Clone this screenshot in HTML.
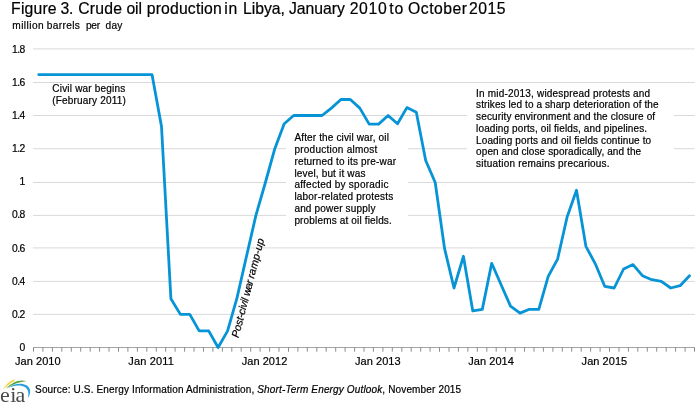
<!DOCTYPE html>
<html><head><meta charset="utf-8"><title>Figure 3</title>
<style>
html,body{margin:0;padding:0;background:#fff;}
body{width:700px;height:404px;overflow:hidden;font-family:"Liberation Sans",Arial,sans-serif;}
svg{display:block;}
text{font-family:"Liberation Sans",Arial,sans-serif;fill:#000;stroke:#000;stroke-width:0.2px;}
.g line{stroke:#d9d9d9;stroke-width:1;}
.ax line{stroke:#8c8c8c;stroke-width:1;}
.s10{font-size:10px;}
.s11{font-size:11px;}
</style></head><body>
<svg width="700" height="404" viewBox="0 0 700 404">
<rect width="700" height="404" fill="#fff"/>
<text y="13.65" font-size="15.75"><tspan x="11.10" textLength="45.50" lengthAdjust="spacing">Figure</tspan> <tspan x="60.50" textLength="12.83" lengthAdjust="spacing">3.</tspan> <tspan x="78.23" textLength="43.75" lengthAdjust="spacing">Crude</tspan> <tspan x="126.38" textLength="15.72" lengthAdjust="spacing">oil</tspan> <tspan x="146.75" textLength="75.03" lengthAdjust="spacing">production</tspan> <tspan x="224.18" textLength="13.19" lengthAdjust="spacing">in</tspan> <tspan x="243.02" textLength="41.85" lengthAdjust="spacing">Libya,</tspan> <tspan x="289.02" textLength="55.88" lengthAdjust="spacing">January</tspan> <tspan x="349.70" textLength="37.04" lengthAdjust="spacing">2010</tspan> <tspan x="389.14" textLength="14.08" lengthAdjust="spacing">to</tspan> <tspan x="408.12" textLength="58.79" lengthAdjust="spacing">October</tspan> <tspan x="469.06" textLength="36.54" lengthAdjust="spacing">2015</tspan></text>
<text y="28.7" font-size="10.15"><tspan x="12.30" textLength="31.37" lengthAdjust="spacing">million</tspan> <tspan x="46.84" textLength="32.98" lengthAdjust="spacing">barrels</tspan> <tspan x="85.90" textLength="14.24" lengthAdjust="spacing">per</tspan> <tspan x="105.61" textLength="16.69" lengthAdjust="spacing">day</tspan></text>
<g class="g"><line x1="33" x2="694.8" y1="314.4" y2="314.4"/><line x1="33" x2="694.8" y1="281.4" y2="281.4"/><line x1="33" x2="694.8" y1="247.9" y2="247.9"/><line x1="33" x2="694.8" y1="215.4" y2="215.4"/><line x1="33" x2="694.8" y1="182.5" y2="182.5"/><line x1="33" x2="694.8" y1="148.7" y2="148.7"/><line x1="33" x2="694.8" y1="115.5" y2="115.5"/><line x1="33" x2="694.8" y1="82.5" y2="82.5"/><line x1="33" x2="694.8" y1="48.9" y2="48.9"/></g>
<rect x="286" y="128" width="122" height="100" fill="#fff"/>
<rect x="467" y="84" width="207" height="88" fill="#fff"/>
<g class="ax"><line x1="33" x2="695" y1="347.5" y2="347.5" style="stroke:#a4a4a4"/><line x1="33.5" x2="33.5" y1="347.5" y2="351.7"/><line x1="42.9" x2="42.9" y1="347.5" y2="351.7"/><line x1="52.4" x2="52.4" y1="347.5" y2="351.7"/><line x1="61.8" x2="61.8" y1="347.5" y2="351.7"/><line x1="71.3" x2="71.3" y1="347.5" y2="351.7"/><line x1="80.7" x2="80.7" y1="347.5" y2="351.7"/><line x1="90.2" x2="90.2" y1="347.5" y2="351.7"/><line x1="99.6" x2="99.6" y1="347.5" y2="351.7"/><line x1="109.0" x2="109.0" y1="347.5" y2="351.7"/><line x1="118.5" x2="118.5" y1="347.5" y2="351.7"/><line x1="127.9" x2="127.9" y1="347.5" y2="351.7"/><line x1="137.4" x2="137.4" y1="347.5" y2="351.7"/><line x1="146.8" x2="146.8" y1="347.5" y2="351.7"/><line x1="156.3" x2="156.3" y1="347.5" y2="351.7"/><line x1="165.7" x2="165.7" y1="347.5" y2="351.7"/><line x1="175.1" x2="175.1" y1="347.5" y2="351.7"/><line x1="184.6" x2="184.6" y1="347.5" y2="351.7"/><line x1="194.0" x2="194.0" y1="347.5" y2="351.7"/><line x1="203.5" x2="203.5" y1="347.5" y2="351.7"/><line x1="212.9" x2="212.9" y1="347.5" y2="351.7"/><line x1="222.4" x2="222.4" y1="347.5" y2="351.7"/><line x1="231.8" x2="231.8" y1="347.5" y2="351.7"/><line x1="241.2" x2="241.2" y1="347.5" y2="351.7"/><line x1="250.7" x2="250.7" y1="347.5" y2="351.7"/><line x1="260.1" x2="260.1" y1="347.5" y2="351.7"/><line x1="269.6" x2="269.6" y1="347.5" y2="351.7"/><line x1="279.0" x2="279.0" y1="347.5" y2="351.7"/><line x1="288.5" x2="288.5" y1="347.5" y2="351.7"/><line x1="297.9" x2="297.9" y1="347.5" y2="351.7"/><line x1="307.3" x2="307.3" y1="347.5" y2="351.7"/><line x1="316.8" x2="316.8" y1="347.5" y2="351.7"/><line x1="326.2" x2="326.2" y1="347.5" y2="351.7"/><line x1="335.7" x2="335.7" y1="347.5" y2="351.7"/><line x1="345.1" x2="345.1" y1="347.5" y2="351.7"/><line x1="354.6" x2="354.6" y1="347.5" y2="351.7"/><line x1="364.0" x2="364.0" y1="347.5" y2="351.7"/><line x1="373.4" x2="373.4" y1="347.5" y2="351.7"/><line x1="382.9" x2="382.9" y1="347.5" y2="351.7"/><line x1="392.3" x2="392.3" y1="347.5" y2="351.7"/><line x1="401.8" x2="401.8" y1="347.5" y2="351.7"/><line x1="411.2" x2="411.2" y1="347.5" y2="351.7"/><line x1="420.7" x2="420.7" y1="347.5" y2="351.7"/><line x1="430.1" x2="430.1" y1="347.5" y2="351.7"/><line x1="439.5" x2="439.5" y1="347.5" y2="351.7"/><line x1="449.0" x2="449.0" y1="347.5" y2="351.7"/><line x1="458.4" x2="458.4" y1="347.5" y2="351.7"/><line x1="467.9" x2="467.9" y1="347.5" y2="351.7"/><line x1="477.3" x2="477.3" y1="347.5" y2="351.7"/><line x1="486.8" x2="486.8" y1="347.5" y2="351.7"/><line x1="496.2" x2="496.2" y1="347.5" y2="351.7"/><line x1="505.6" x2="505.6" y1="347.5" y2="351.7"/><line x1="515.1" x2="515.1" y1="347.5" y2="351.7"/><line x1="524.5" x2="524.5" y1="347.5" y2="351.7"/><line x1="534.0" x2="534.0" y1="347.5" y2="351.7"/><line x1="543.4" x2="543.4" y1="347.5" y2="351.7"/><line x1="552.9" x2="552.9" y1="347.5" y2="351.7"/><line x1="562.3" x2="562.3" y1="347.5" y2="351.7"/><line x1="571.7" x2="571.7" y1="347.5" y2="351.7"/><line x1="581.2" x2="581.2" y1="347.5" y2="351.7"/><line x1="590.6" x2="590.6" y1="347.5" y2="351.7"/><line x1="600.1" x2="600.1" y1="347.5" y2="351.7"/><line x1="609.5" x2="609.5" y1="347.5" y2="351.7"/><line x1="619.0" x2="619.0" y1="347.5" y2="351.7"/><line x1="628.4" x2="628.4" y1="347.5" y2="351.7"/><line x1="637.8" x2="637.8" y1="347.5" y2="351.7"/><line x1="647.3" x2="647.3" y1="347.5" y2="351.7"/><line x1="656.7" x2="656.7" y1="347.5" y2="351.7"/><line x1="666.2" x2="666.2" y1="347.5" y2="351.7"/><line x1="675.6" x2="675.6" y1="347.5" y2="351.7"/><line x1="685.1" x2="685.1" y1="347.5" y2="351.7"/><line x1="694.5" x2="694.5" y1="347.5" y2="351.7"/></g>
<g class="s11"><text x="19.57" y="350.5" font-size="10.3">0</text><text x="12.10" y="318.3" font-size="10.3" textLength="13.2" lengthAdjust="spacing">0.2</text><text x="12.10" y="284.6" font-size="10.3" textLength="13.2" lengthAdjust="spacing">0.4</text><text x="12.10" y="251.5" font-size="10.3" textLength="13.2" lengthAdjust="spacing">0.6</text><text x="12.10" y="218.3" font-size="10.3" textLength="13.2" lengthAdjust="spacing">0.8</text><text x="19.57" y="184.6" font-size="10.3">1</text><text x="12.10" y="151.5" font-size="10.3" textLength="13.2" lengthAdjust="spacing">1.2</text><text x="12.10" y="119.0" font-size="10.3" textLength="13.2" lengthAdjust="spacing">1.4</text><text x="12.10" y="85.7" font-size="10.3" textLength="13.2" lengthAdjust="spacing">1.6</text><text x="12.10" y="52.6" font-size="10.3" textLength="13.2" lengthAdjust="spacing">1.8</text><text x="37.8" y="364.7" text-anchor="middle" textLength="45.6" lengthAdjust="spacing">Jan 2010</text><text x="151.1" y="364.7" text-anchor="middle" textLength="45.6" lengthAdjust="spacing">Jan 2011</text><text x="264.5" y="364.7" text-anchor="middle" textLength="45.6" lengthAdjust="spacing">Jan 2012</text><text x="377.8" y="364.7" text-anchor="middle" textLength="45.6" lengthAdjust="spacing">Jan 2013</text><text x="491.1" y="364.7" text-anchor="middle" textLength="45.6" lengthAdjust="spacing">Jan 2014</text><text x="604.4" y="364.7" text-anchor="middle" textLength="45.6" lengthAdjust="spacing">Jan 2015</text></g>
<g class="s10"><text x="52.3" y="91.9" textLength="72.9" lengthAdjust="spacing">Civil war begins</text><text x="52.3" y="103.5" textLength="73.5" lengthAdjust="spacing">(February 2011)</text><text x="294.4" y="140.8" textLength="94.5" lengthAdjust="spacing">After the civil war, oil</text><text x="294.4" y="152.7" textLength="83" lengthAdjust="spacing">production almost</text><text x="294.4" y="164.6" textLength="101.6" lengthAdjust="spacing">returned to its pre-war</text><text x="294.4" y="176.5" textLength="71" lengthAdjust="spacing">level, but it was</text><text x="294.4" y="188.4" textLength="94" lengthAdjust="spacing">affected by sporadic</text><text x="294.4" y="200.3" textLength="98.8" lengthAdjust="spacing">labor-related protests</text><text x="294.4" y="212.2" textLength="81" lengthAdjust="spacing">and power supply</text><text x="294.4" y="224.1" textLength="97.4" lengthAdjust="spacing">problems at oil fields.</text><text x="476.1" y="96.6" textLength="174" lengthAdjust="spacing">In mid-2013, widespread protests and</text><text x="476.1" y="108.3" textLength="182.4" lengthAdjust="spacing">strikes led to a sharp deterioration of the</text><text x="476.1" y="120.1" textLength="179" lengthAdjust="spacing">security environment and the closure of</text><text x="476.1" y="131.8" textLength="171" lengthAdjust="spacing">loading ports, oil fields, and pipelines.</text><text x="476.1" y="143.5" textLength="175" lengthAdjust="spacing">Loading ports and oil fields continue to</text><text x="476.1" y="155.2" textLength="165" lengthAdjust="spacing">open and close sporadically, and the</text><text x="476.1" y="167.0" textLength="133.5" lengthAdjust="spacing">situation remains precarious.</text></g>
<text font-size="10.7" font-style="italic" transform="translate(238.5,338.2) rotate(-75.4)" ><tspan x="0" textLength="40.6" lengthAdjust="spacing">Post-civil</tspan> <tspan x="43.2" textLength="15.8" lengthAdjust="spacing">war</tspan> <tspan x="61.1" textLength="41" lengthAdjust="spacing">ramp-up</tspan></text>
<polyline points="38.7,74.6 48.2,74.6 57.6,74.6 67.0,74.6 76.5,74.6 85.9,74.6 95.4,74.6 104.8,74.6 114.3,74.6 123.7,74.6 133.2,74.6 142.6,74.6 152.0,74.6 161.5,126.5 170.9,298.7 180.4,314.4 189.8,314.4 199.2,330.9 208.7,330.9 218.1,347.5 227.6,330.9 237.0,297.9 246.5,256.3 255.9,215.4 265.4,182.5 274.8,148.7 284.2,123.8 293.7,115.5 303.1,115.5 312.6,115.5 322.0,115.5 331.4,108.1 340.9,99.5 350.3,99.5 359.8,108.1 369.2,124.1 378.6,124.1 388.1,115.5 397.5,123.8 406.9,107.6 416.3,112.2 425.7,160.5 435.2,182.5 444.6,248.7 454.0,288.0 463.4,256.3 472.8,310.9 482.3,309.4 491.7,263.3 501.1,284.7 510.5,306.1 520.0,313.1 529.4,309.3 538.8,309.3 548.2,276.4 557.6,259.1 567.1,217.0 576.5,190.2 585.9,246.3 595.3,263.8 604.7,286.3 614.2,288.0 623.6,269.0 633.0,264.6 642.4,275.7 651.8,279.7 661.3,281.4 670.7,288.0 680.1,285.7 689.5,275.7" fill="none" stroke="#0694d6" stroke-width="2.8" stroke-linejoin="round" stroke-linecap="round"/>
<g stroke="none">
<path d="M2.8,390 C5.6,385 9.6,380.8 14.5,379.5 L14.7,380.9 C10.6,382.6 6.6,386 2.8,390 Z" fill="#f9d13e"/>
<path d="M6.1,388.6 C11.5,382.7 19,379.1 26.2,381.2 C19.5,381.7 12.5,384.5 6.1,388.6 Z" fill="#5aa547"/>
<path d="M8,387.9 C13.5,383.7 21.5,382.3 26.6,385.3 C31.3,388.2 31,394.3 27.8,398.2 C29.1,394 28.5,389.8 25.2,387.3 C21,384.5 14,385 8,387.9 Z" fill="#2a9fe0"/>
</g>
<text y="401.5" font-size="22" style="font-family:'Liberation Serif',serif;fill:#4a4a4a;stroke:none"><tspan x="0.1">e</tspan><tspan x="10.2">i</tspan><tspan x="15.6">a</tspan></text>
<text class="s10" x="35.1" y="392.7" textLength="426" lengthAdjust="spacing">Source: U.S. Energy Information Administration, <tspan font-style="italic">Short-Term Energy Outlook</tspan>, November 2015</text>
</svg>
</body></html>
